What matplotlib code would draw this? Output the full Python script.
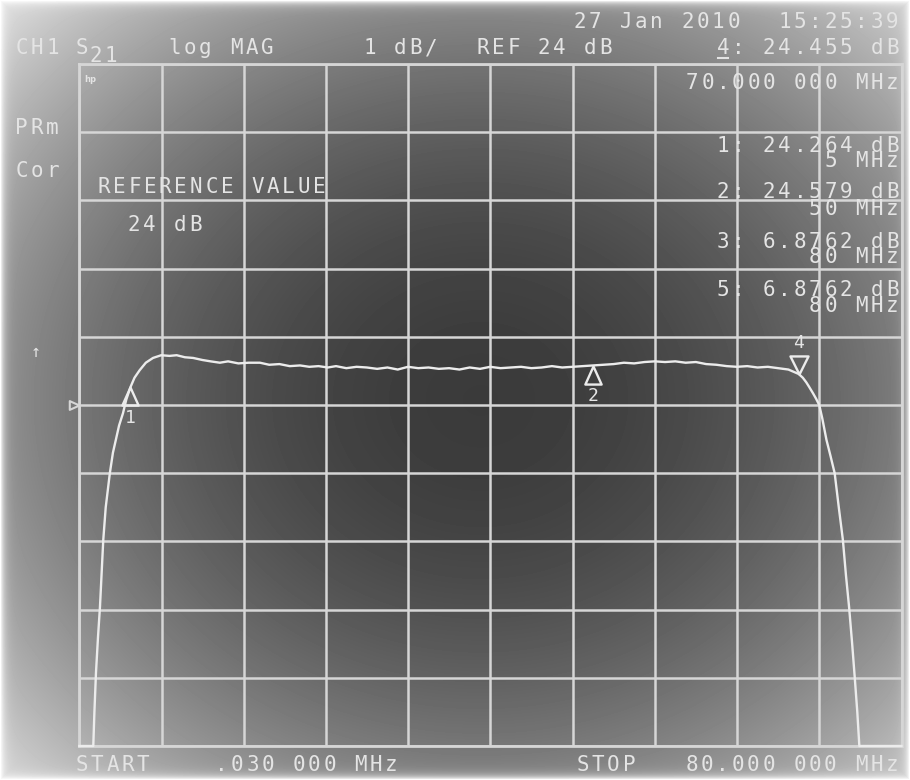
import numpy as np
import matplotlib
matplotlib.use("Agg")
import matplotlib.pyplot as plt
from matplotlib.path import Path
from matplotlib.lines import Line2D

W, H = 910, 780

# S21 trace (MHz, dB); values below 19 dB sit on the bottom edge
freq_mhz = [0.03, 1.0, 1.39, 1.5, 1.65, 1.85, 2.04, 2.36, 2.6, 3.0, 3.3, 3.9,
            4.28, 4.6, 5.0, 5.4, 5.9, 6.5, 7.2, 8.0, 8.8, 9.5, 10.3, 11.1, 12.0,
            12.8, 13.7, 14.5, 15.5, 16.5, 17.6, 18.5, 19.5, 20.5, 21.5, 22.4,
            23.3, 24.2, 25.0, 26.0, 27.0, 28.0, 29.0, 30.0, 31.0, 32.0, 33.0,
            34.0, 35.0, 36.0, 37.0, 38.0, 39.0, 40.0, 41.0, 42.0, 43.0, 44.0,
            45.0, 46.0, 47.0, 48.0, 49.0, 50.0, 51.0, 52.0, 53.0, 54.0, 55.0,
            56.0, 57.0, 58.0, 59.0, 60.0, 61.0, 62.0, 63.0, 64.0, 65.0, 66.0,
            67.0, 68.0, 69.0, 70.0, 70.4, 70.75, 71.0, 71.4, 71.7, 72.0, 72.3,
            72.7, 73.1, 73.5, 73.9, 74.3, 74.6, 74.9, 75.2, 75.45, 75.7, 75.9,
            77.0, 80.0]
s21_db = [10.0, 16.0, 19.0, 19.5, 20.07, 20.6, 21.04, 22.02, 22.5, 23.0, 23.3, 23.7,
          23.88, 24.08, 24.26, 24.4, 24.51, 24.62, 24.69, 24.73, 24.72, 24.73, 24.70,
          24.69, 24.66, 24.64, 24.62, 24.64, 24.61, 24.62, 24.62, 24.59, 24.60, 24.57,
          24.58, 24.56, 24.57, 24.55, 24.57, 24.54, 24.56, 24.55, 24.53, 24.55, 24.52,
          24.56, 24.54, 24.55, 24.53, 24.54, 24.52, 24.55, 24.53, 24.56, 24.54, 24.55,
          24.56, 24.54, 24.55, 24.57, 24.55, 24.56, 24.57, 24.58, 24.59, 24.60, 24.62,
          24.61, 24.63, 24.64, 24.63, 24.64, 24.62, 24.63, 24.60, 24.59, 24.57, 24.56,
          24.57, 24.55, 24.56, 24.54, 24.52, 24.455, 24.40, 24.33, 24.27, 24.17, 24.09,
          24.0, 23.8, 23.49, 23.25, 23.0, 22.5, 22.02, 21.5, 21.04, 20.5, 20.01, 19.5,
          19.0, 16.0, 6.876]

# markers: (number, MHz, dB, drawn below trace?)
marker_ids = ["1", "2", "4"]
marker_freq = [5.0, 50.0, 70.0]
marker_db = [24.264, 24.579, 24.455]
marker_below = [True, True, False]

# marker readout table on the right
readout_lines = [("1: 24.264 dB", 146), ("5 MHz", 161), ("2: 24.579 dB", 192),
                 ("50 MHz", 209), ("3: 6.8762 dB", 242), ("80 MHz", 257),
                 ("5: 6.8762 dB", 290), ("80 MHz", 306)]

ref_db = 24
scale_db = 1
start_mhz, stop_mhz = 0.03, 80.0

TXT = "#e4e4e4"
GRID = "#d6d6d6"
PITCH = 15.4

fig = plt.figure(figsize=(W / 100, H / 100), dpi=100)

# photographed CRT: darker centre, lighter edges
bg = fig.add_axes([0, 0, 1, 1])
yy, xx = np.mgrid[0:H, 0:W]
dx = (xx - 480) / 455.0
dy = (yy - 400) / 390.0
v = 0.23 + 0.30 * (dx ** 2 + dy ** 2)
edge = np.minimum.reduce([xx, yy, W - 1 - xx, H - 1 - yy]).astype(float)
v = v + (1 - v) * np.exp(-edge / 4.0)
bg.imshow(np.clip(v, 0, 1), cmap="gray", vmin=0, vmax=1, aspect="auto",
          interpolation="bilinear")
bg.axis("off")


def crt_text(x, y, s, size=15, pitch=PITCH, right=False):
    if right:
        x = x - pitch * len(s)
    for i, ch in enumerate(s):
        if ch == " ":
            continue
        fig.text((x + pitch * (i + 0.5)) / W, 1 - y / H, ch, color=TXT,
                 fontsize=size, family="DejaVu Sans Mono", ha="center",
                 va="center")


ax = fig.add_axes([79.3 / W, 1 - 746 / H, 822.2 / W, 682 / H])
ax.set_facecolor("none")
ax.set_xlim(start_mhz, stop_mhz)
ax.set_ylim(ref_db - 5 * scale_db, ref_db + 5 * scale_db)
ax.set_xticks(np.linspace(start_mhz, stop_mhz, 11))
ax.set_yticks(np.arange(ref_db - 5, ref_db + 6, scale_db))
ax.tick_params(length=0, labelbottom=False, labelleft=False)
ax.grid(True, color=GRID, lw=1.8)
for sp in ax.spines.values():
    sp.set_color(GRID)
    sp.set_linewidth(2)

lo, hi = ax.get_ylim()
ax.plot(freq_mhz, np.clip(s21_db, lo, hi), color="#ececec", lw=1.7,
        clip_on=False, zorder=5)

# hollow marker triangles with apex on the trace
up_tri = Path([(0, 0), (-0.45, -1), (0.45, -1), (0, 0)],
              [Path.MOVETO, Path.LINETO, Path.LINETO, Path.CLOSEPOLY])
down_tri = Path([(0, 0), (-0.5, 1), (0.5, 1), (0, 0)],
                [Path.MOVETO, Path.LINETO, Path.LINETO, Path.CLOSEPOLY])
for mid, f, d, below in zip(marker_ids, marker_freq, marker_db, marker_below):
    ax.plot([f], [d], marker=up_tri if below else down_tri, ms=26,
            mfc="none", mec="#ececec", mew=1.7, zorder=6, clip_on=False)
    ax.annotate(mid, (f, d), xytext=(0, -22 if below else 22),
                textcoords="offset points", ha="center", va="center",
                color=TXT, fontsize=13, family="DejaVu Sans Mono")

# reference position arrow on the left edge
ref_tri = Path([(0, 0), (-1, 0.45), (-1, -0.45), (0, 0)],
               [Path.MOVETO, Path.LINETO, Path.LINETO, Path.CLOSEPOLY])
ax.plot([start_mhz], [ref_db], marker=ref_tri, ms=14, mfc="none",
        mec=GRID, mew=1.5, clip_on=False, zorder=6)

# header
crt_text(572, 22, "27 Jan 2010")
crt_text(900, 22, "15:25:39", right=True)
crt_text(14, 48, "CH1")
crt_text(74, 48, "S")
crt_text(88, 56, "21")
crt_text(167, 48, "log MAG")
crt_text(362, 48, "1 dB/")
crt_text(475, 48, "REF 24 dB")
crt_text(900, 48, "4: 24.455 dB", right=True)
ux = 900 - 12 * PITCH
fig.add_artist(Line2D([(ux + 3) / W, (ux + PITCH - 3) / W],
                      [1 - 58 / H, 1 - 58 / H], color=TXT, lw=1.5))
crt_text(900, 83, "70.000 000 MHz", right=True)

for s, y in readout_lines:
    crt_text(900, y, s, right=True)

crt_text(14, 128, "PRm")
crt_text(14, 171, "Cor")
crt_text(96, 187, "REFERENCE VALUE")
crt_text(126, 225, "24 dB")
crt_text(28, 352, "↑", size=12)
fig.text(90 / W, 1 - 80 / H, "hp", color=TXT, fontsize=6, weight="bold",
         ha="center", va="center")

crt_text(74, 765, "START")
crt_text(214, 765, ".030 000 MHz")
crt_text(575, 765, "STOP")
crt_text(684, 765, "80.000 000 MHz")

fig.savefig("out.png", dpi=100)
